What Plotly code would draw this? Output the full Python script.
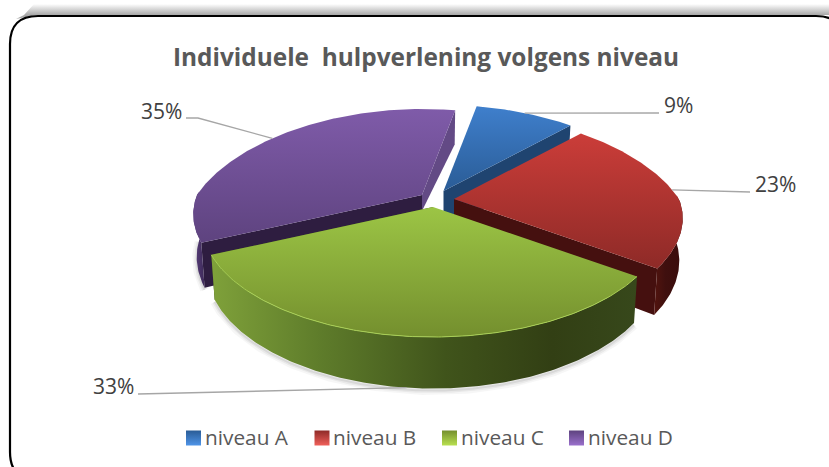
import math
import plotly.graph_objects as go

# --- data ---
categories = ["niveau A", "niveau B", "niveau C", "niveau D"]
values = [9, 23, 33, 35]
title_text = "Individuele \u00a0hulpverlening volgens niveau"

# --- styles ---
top_grad = [("#3f7fcc", "#2a5c96"), ("#cb3d39", "#8e2a27"), ("#9cc545", "#748f2e"), ("#7f5ba9", "#5e437f")]
wall_col = ["#1f4470", "#45100f", "#3a4a1a", "#2e1d40"]
legend_top = ["#4f94e8", "#f0605a", "#b8e050", "#9a70cc"]
legend_col = ["#2a5c96", "#8e2a27", "#748f2e", "#5e437f"]
rim_scale = [
    [[0, "#2a5c96"], [1, "#1f4470"]],
    [[0, "#52140f"], [0.4, "#3f0f0e"], [1, "#3a0d0c"]],
    [[0, "#7fa13a"], [0.25, "#5f7d2b"], [0.55, "#40541b"], [0.8, "#323f14"], [1, "#37481b"]],
    [[0, "#5a3f7d"], [1, "#3d2a58"]],
]
apex = [(443.5, 191), (454, 199), (433, 207), (422, 195)]
radius_x = [225.0, 225.0, 226.0, 225.0]
start_angle = 11.0
B, K, D = 103.5, 0.204, 41.0
KX_FRONT, KX_BACK = 0.18, 0.30

def project(theta, i, r=1.0, lower=False):
    t = math.radians(theta)
    X, Y = r * math.sin(t), -r * math.cos(t)
    s = 1 / (1 - K * Y)
    sx = 1 / (1 - (KX_FRONT if Y >= 0 else KX_BACK) * Y)
    ax, ay = apex[i]
    f = 0.985 if lower else 1.0
    return ax + radius_x[i] * X * sx * f, ay + B * Y * s + (D * s if lower else 0)

def arc(t0, t1, i, lower=False):
    n = max(2, int(abs(t1 - t0) * 1.5))
    pts = [project(t0 + (t1 - t0) * j / n, i, lower=lower) for j in range(n + 1)]
    return [p[0] for p in pts], [p[1] for p in pts]

fig = go.Figure()

def poly(xs, ys, color=None, grad=None, gtype="vertical", start=None, stop=None):
    kw = dict(x=xs, y=ys, mode="lines", fill="toself", line=dict(width=0),
              hoverinfo="skip", showlegend=False)
    if grad:
        kw["fillgradient"] = dict(type=gtype, colorscale=grad, start=start, stop=stop)
    else:
        kw["fillcolor"] = color
    fig.add_trace(go.Scatter(**kw))

# frame shadow (decorative band above the frame)
poly([24, 34, 829, 829, 36, 16], [15, 4, 4, 15, 15, 19],
     grad=[[0, "#ffffff"], [1, "#a8a8a8"]], start=4, stop=15)

# slice angles
angles = []
c = start_angle
for v in values:
    angles.append((c, c + v * 3.6))
    c += v * 3.6

# soft shadow under the pie
for w, col in [(9, "rgba(0,0,0,0.035)"), (5, "rgba(0,0,0,0.05)"), (2, "rgba(0,0,0,0.07)")]:
    for i in (2, 3):
        t0 = max(angles[i][0], 100)
        t1 = min(angles[i][1], 268)
        x, y = arc(t0, t1, i, lower=True)
        fig.add_trace(go.Scatter(x=x, y=[q + 2 for q in y], mode="lines",
                                 line=dict(width=w, color=col),
                                 hoverinfo="skip", showlegend=False))

# draw back to front
order = [3, 0, 1, 2]
for i in order:
    t0, t1 = angles[i]
    ax, ay = apex[i]
    if i == 3:
        ex, ey = project(t0, i)
        bx, by = project(t0, i, lower=True)
        poly([ax, ex, bx, ax], [ay, ey, by, ay + D], color=wall_col[i])
        ex, ey = project(t1, i)
        bx, by = project(t1, i, lower=True)
        poly([ax, ex, bx, ax], [ay, ey, by, ay + 16], color="#634a85")
    else:
        ex, ey = project(t1, i)
        bx, by = project(t1, i, lower=True)
        poly([ax, ex, bx, ax], [ay, ey, by, ay + D], color=wall_col[i])
    r0, r1 = max(t0, 88), min(t1, 272)
    if r1 > r0:
        xt, yt = arc(r0, r1, i)
        xb, yb = arc(r0, r1, i, lower=True)
        allx = xt + xb[::-1]
        poly(allx, yt + yb[::-1], grad=rim_scale[i], gtype="horizontal",
             start=min(allx), stop=max(allx))
    x, y = arc(t0, t1, i)
    xs, ys = [ax] + x + [ax], [ay] + y + [ay]
    poly(xs, ys, grad=[[0, top_grad[i][0]], [1, top_grad[i][1]]], start=min(ys), stop=max(ys))

# green front highlight
x, y = arc(angles[2][0], angles[2][1], 2)
fig.add_trace(go.Scatter(x=x, y=y, mode="lines", line=dict(width=1, color="#a8cf55"),
                         hoverinfo="skip", showlegend=False))

# leader lines and value labels
mid = [(a + b) / 2 for a, b in angles]
label_pos = [(678, 105), (775, 184), (113, 386), (161, 111)]
elbows = [[(659, 113)], [(740, 192), (750, 192)], [(138, 394)], [(198, 118), (186, 118)]]
for i, v in enumerate(values):
    sx, sy = project(mid[i], i, lower=(i == 2))
    xs = [sx] + [e[0] for e in elbows[i]]
    ys = [sy] + [e[1] for e in elbows[i]]
    fig.add_trace(go.Scatter(x=xs, y=ys, mode="lines", line=dict(width=1.3, color="#a6a6a6"),
                             hoverinfo="skip", showlegend=False))
    fig.add_annotation(x=label_pos[i][0], y=label_pos[i][1], text=f"{v}%", showarrow=False,
                       font=dict(family="Open Sans", size=21, color="#404040"))

# legend entries
swatch_x = [193.5, 322, 449.5, 576.5]
text_x = [202.5, 331, 459, 586]
legend_y = 438
for i, name in enumerate(categories):
    fig.add_trace(go.Scatter(x=[swatch_x[i]], y=[legend_y], mode="markers", name=name,
                             hoverinfo="skip", showlegend=False,
                             marker=dict(symbol="square", size=15, color=legend_col[i],
                                         gradient=dict(type="vertical", color=legend_top[i]))))
    fig.add_annotation(x=text_x[i], y=legend_y - 1, text=name, showarrow=False, xanchor="left",
                       font=dict(family="Open Sans", size=20.8, color="#595959"))

fig.add_annotation(x=425.5, y=56, text=f"<b>{title_text}</b>", showarrow=False,
                   font=dict(family="Open Sans", size=24.4, color="#595959"))

# frame, partly running off the page
fig.add_shape(type="path", xref="x", yref="y", layer="above",
              path="M 10 44 Q 10 16 38 16 L 816 16 Q 844 16 844 44 L 844 452 Q 844 480 816 480 L 38 480 Q 10 480 10 452 Z",
              line=dict(color="#000000", width=2.2))

fig.update_layout(
    width=829, height=467, margin=dict(l=0, r=0, t=0, b=0),
    paper_bgcolor="white", plot_bgcolor="white",
    xaxis=dict(range=[0, 829], visible=False, fixedrange=True),
    yaxis=dict(range=[467, 0], visible=False, fixedrange=True),
    showlegend=False,
)
fig.write_html("out.html", config={"displayModeBar": False},
               post_script="document.body.style.margin='0';document.body.style.overflow='hidden';")
